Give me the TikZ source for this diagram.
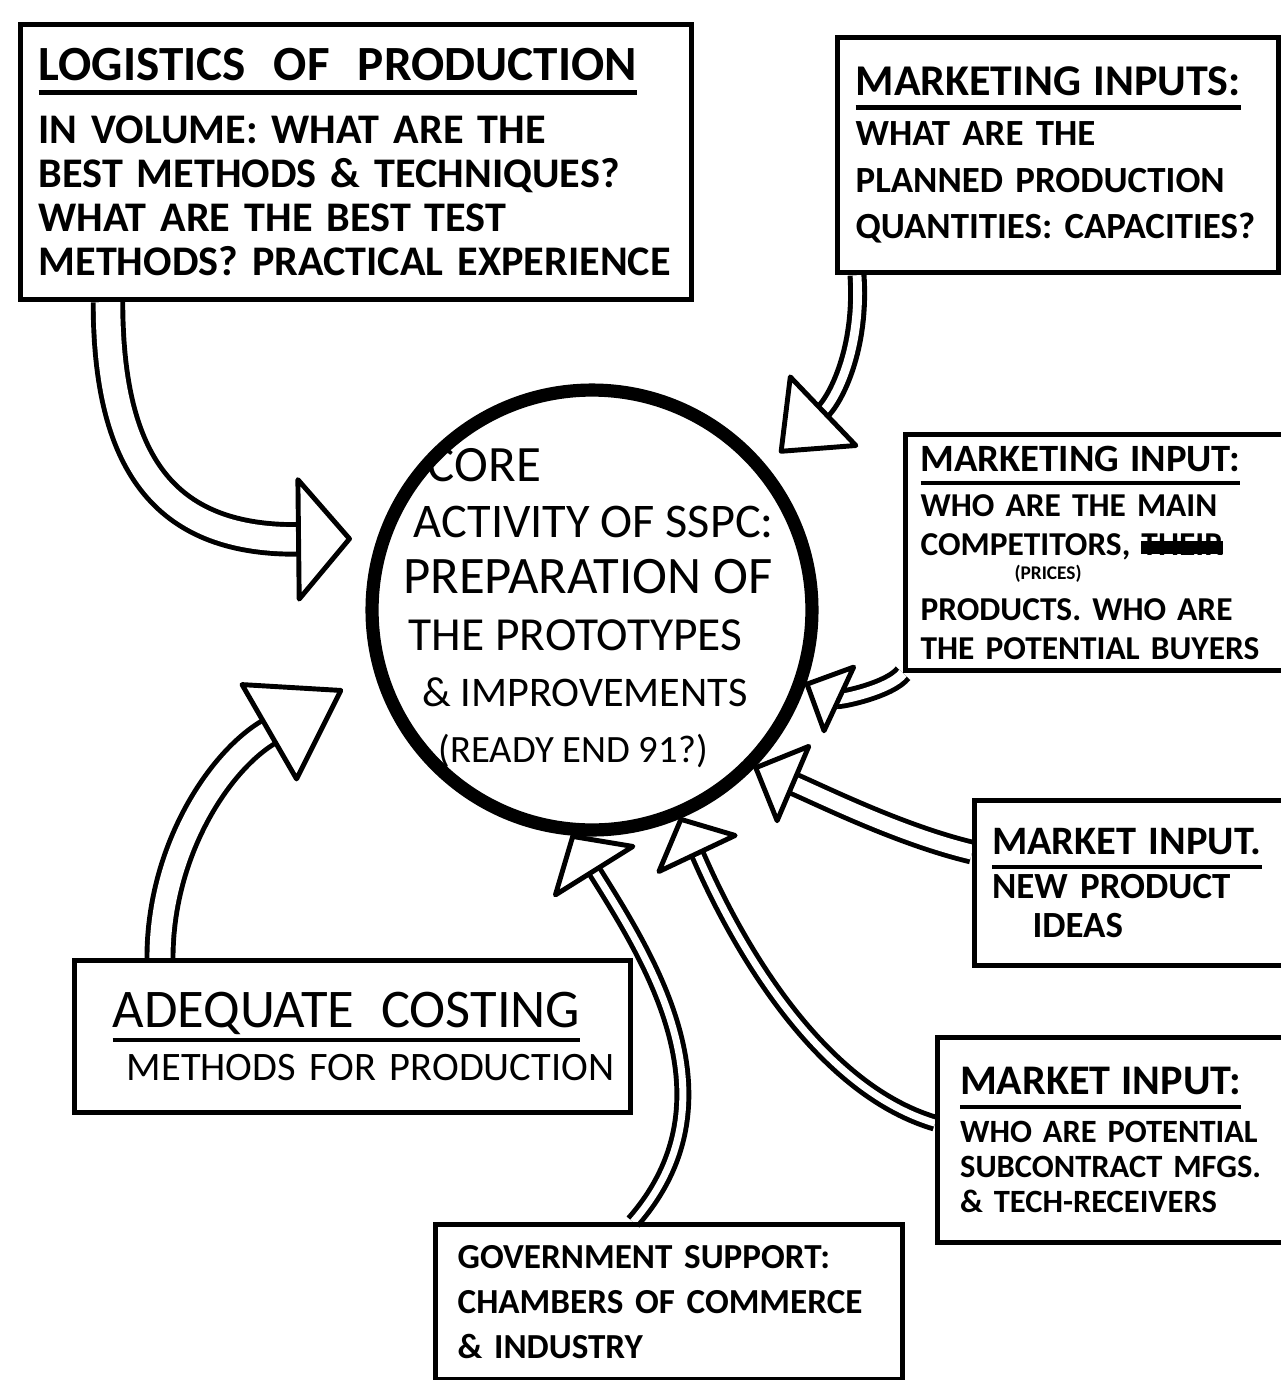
\documentclass[tikz,border=0pt]{standalone}
\usepackage{fontspec}
\setmainfont{Carlito}
\usetikzlibrary{decorations.markings,backgrounds}

\newcommand{\fs}[2]{\fontsize{#1}{#2}\selectfont}
% heavy underline and crossed-out word
\newcommand{\uln}[1]{\setbox0=\hbox{#1}\rlap{\rule[-8pt]{\wd0}{2.4pt}}\box0}
\newcommand{\inkout}[1]{\setbox0=\hbox{#1}\rlap{\rule[0.1ex]{\wd0}{0.8ex}}\box0}

\tikzset{
  box/.style={draw, line width=3pt, rectangle, anchor=north west, align=left,
    inner ysep=0pt, font=\bfseries},
  % hollow arrow: outer width, inner width, head length, head half width
  flow/.style n args={4}{line width=#1, shorten >=#3,
    postaction={draw=white, line width=#2},
    postaction={decorate, decoration={markings,
      mark=at position -0.5pt with {\draw[black, line width=2.8pt, fill=white,
        line join=round, shorten >=0pt, shorten <=0pt]
        (0pt,0pt) -- (-#3,#4) -- (-#3,-#4) -- cycle;}}}},
}

\begin{document}
\begin{tikzpicture}[x=0.02cm, y=-0.02cm]
	\useasboundingbox (0,0) rectangle (1281,1380);

	% the core activity
	\node[draw, circle, line width=7.5pt, minimum size=8.8cm] (core) at (592,610) {};
	\node[anchor=north west, align=left, inner sep=0pt, font=\fs{29}{32}] (coretext) at (403,448)
		{\hspace*{14pt}CORE\\
		 {\fs{27.5}{32}\hspace*{6pt}ACTIVITY OF SSPC:}\\
		 {\fs{30}{32}PREPARATION OF}\\
		 {\fs{27}{32}\hspace*{3pt}THE PROTOTYPES}\\
		 {\fs{24}{32}\hspace*{11pt}\& IMPROVEMENTS}\\
		 {\fs{22}{32}\hspace*{20pt}(READY END 91?)}};

	% inputs
	\node[box, font=\bfseries\fs{24}{25}, text width=12.7cm, minimum height=5.5cm, inner xsep=0.36cm] (logi) at (18,22)
		{{\fs{28}{34}\uln{LOGISTICS\ \ OF\ \ PRODUCTION}}\\[11pt]
		 IN VOLUME: WHAT ARE THE\\
		 BEST METHODS \& TECHNIQUES?\\
		 WHAT ARE THE BEST TEST\\
		 METHODS? PRACTICAL EXPERIENCE};

	\node[box, font=\bfseries\fs{21}{26.5}, text width=8.1cm, minimum height=4.7cm, inner xsep=0.36cm] (mkt) at (835,35)
		{{\fs{25}{30}\uln{MARKETING INPUTS:}}\\[2pt]
		 WHAT ARE THE\\
		 PLANNED PRODUCTION\\
		 QUANTITIES: CAPACITIES?};

	\node[box, font=\bfseries\fs{19}{22}, text width=8.4cm, minimum height=4.72cm, inner xsep=0.3cm] (comp) at (903,432)
		{{\fs{22}{26}\uln{MARKETING INPUT:}}\\[4pt]
		 WHO ARE THE MAIN\\
		 COMP\rlap{\hspace{4pt}\raisebox{-14pt}{\fs{11}{11}(PRICES)}}ETITORS, \inkout{THEIR}\\[8pt]
		 PRODUCTS. WHO ARE\\
		 THE POTENTIAL BUYERS};

	\node[box, font=\bfseries\fs{21}{22}, text width=7.0cm, minimum height=3.3cm, inner xsep=0.35cm] (ideas) at (972,798)
		{{\fs{23}{26}\uln{MARKET INPUT.}}\\[3pt]
		 NEW PRODUCT\\
		 \hspace*{23pt}IDEAS};

	\node[box, font=\bfseries\fs{18.5}{20}, text width=8cm, minimum height=4.1cm, inner xsep=0.45cm] (sub) at (935,1035)
		{{\fs{24}{26}\uln{MARKET INPUT:}}\\[6pt]
		 WHO ARE POTENTIAL\\
		 SUBCONTRACT MFGS.\\
		 \& TECH-RECEIVERS};

	\node[box, font=\bfseries\fs{20}{25.5}, text width=8.74cm, minimum height=3.1cm, inner xsep=0.3cm] (gov) at (433,1222)
		{\hspace*{4pt}GOVERNMENT SUPPORT:\\
		 \hspace*{4pt}CHAMBERS OF COMMERCE\\
		 \hspace*{4pt}\& INDUSTRY};

	\node[box, font=\fs{23}{26}, text width=10.72cm, minimum height=3.04cm, inner xsep=0.2cm] (cost) at (72,958)
		{{\fs{31}{34}\hspace*{16pt}\uln{ADEQUATE\ \ COSTING}}\\[4pt]
		 \hspace*{24pt}METHODS FOR PRODUCTION};

	% hollow arrows into the core
	\begin{scope}[on background layer]
		\draw[flow={19.6pt}{14pt}{29pt}{34pt}] ([xshift=1.8cm]logi.south west)
			.. controls (108,470) and (170,541) .. ([xshift=-0.5cm,yshift=0.1cm]core.163);
		\draw[flow={10.8pt}{5pt}{33pt}{27pt}] ([xshift=0.44cm]mkt.south west)
			.. controls (862,350) and (835,400) .. ([xshift=0.3cm,yshift=0.25cm]core.40);
		\draw[flow={11.3pt}{5.7pt}{20pt}{20pt}] (comp.south west)
			.. controls (890,690) and (840,700) .. (core.-19);
		\draw[flow={14pt}{8.5pt}{23pt}{23pt}] ([yshift=0.62cm]ideas.west)
			.. controls (900,835) and (820,795) .. (core.-44);
		\draw[flow={9.6pt}{4pt}{21.5pt}{24pt}] ([yshift=0.34cm]sub.west)
			.. controls (790,1080) and (705,870) .. (core.-67);
		\draw[flow={9.6pt}{4pt}{23pt}{26pt}] ([xshift=4cm]gov.north west)
			.. controls (740,1100) and (650,960) .. (core.-95);
		\draw[flow={17.6pt}{12pt}{47pt}{31pt}] ([xshift=1.76cm]cost.north west)
			.. controls (160,850) and (220,760) .. ([xshift=-0.7cm,yshift=-0.2cm]core.198);
	\end{scope}

\end{tikzpicture}
\end{document}
